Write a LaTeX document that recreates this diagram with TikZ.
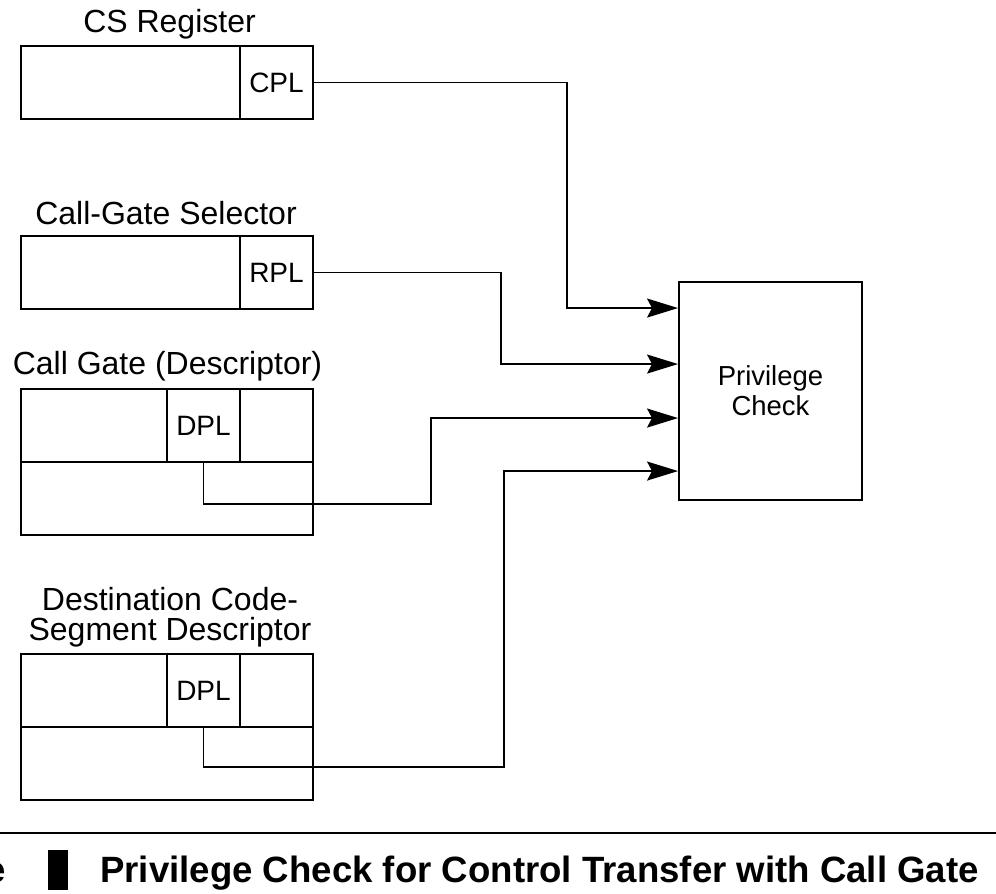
\documentclass[tikz,border=0pt]{standalone}
\usepackage{fontspec}
\setmainfont{Liberation Sans}
\usetikzlibrary{arrows.meta}
\begin{document}
\begin{tikzpicture}[x=1pt,y=-1pt]
\tikzset{cellule/.style={draw, line width=1.9pt, inner sep=0pt, minimum height=73pt, font=\fontsize{28}{32}\selectfont},
titre/.style={inner sep=0pt, font=\fontsize{32}{30}\selectfont},
fleche/.style={line width=1.9pt, -{Stealth[length=31pt,width=19pt,inset=5pt]}},
legende/.style={inner sep=0pt, font=\bfseries\fontsize{36.6}{40}\selectfont}}
\useasboundingbox (0,0) rectangle (996,894);
% CS register
\node[titre, anchor=base] (T1) at (169.5,32) {CS Register};
\node[cellule, minimum width=219pt] (CS) at (130.5,82.5) {};
\node[cellule, minimum width=73pt] (CPL) at (276.5,82.5) {CPL};
% call-gate selector
\node[titre, anchor=base] (T2) at (166,224) {Call-Gate Selector};
\node[cellule, minimum width=219pt] (SEL) at (130.5,272.5) {};
\node[cellule, minimum width=73pt] (RPL) at (276.5,272.5) {RPL};
% call gate
\node[titre, anchor=base] (T3) at (167.5,374) {Call Gate (Descriptor)};
\node[cellule, minimum width=146pt] (G1) at (94,425.5) {};
\node[cellule, minimum width=73pt] (DPL1) at (203.5,425.5) {DPL};
\node[cellule, minimum width=73pt] (G2) at (276.5,425.5) {};
\node[cellule, minimum width=292pt] (G3) at (167,498.5) {};
% destination code segment
\node[titre, anchor=north, align=center] (T4) at (170,587) {Destination Code-\\Segment Descriptor};
\node[cellule, minimum width=146pt] (D1) at (94,690.5) {};
\node[cellule, minimum width=73pt] (DPL2) at (203.5,690.5) {DPL};
\node[cellule, minimum width=73pt] (D2) at (276.5,690.5) {};
\node[cellule, minimum width=292pt] (D3) at (167,763.5) {};
% privilege check
\node[draw, line width=1.9pt, minimum width=183pt, minimum height=218pt, align=center, font=\fontsize{27.5}{30}\selectfont] (CHK) at (770.5,391) {Privilege\\Check};
\coordinate (E1) at ([yshift=-27pt]CHK.north west);
\coordinate (E2) at ([yshift=-83pt]CHK.north west);
\coordinate (E3) at ([yshift=-137pt]CHK.north west);
\coordinate (E4) at ([yshift=-190pt]CHK.north west);
\draw[fleche] (CPL.east) -| ([xshift=-111pt]E1) -- (E1);
\draw[fleche] (RPL.east) -| ([xshift=-177pt]E2) -- (E2);
\draw[fleche] (DPL1.south) -- ++(0,41) -| ([xshift=-247pt]E3) -- (E3);
\draw[fleche] (DPL2.south) -- ++(0,39) -| ([xshift=-174pt]E4) -- (E4);
% caption
\draw[line width=1.5pt] (0,833) -- (996,833);
\fill (48,850) rectangle (68,890);
\node[legende, anchor=base east] (FIG) at (6,882) {e};
\node[legende, anchor=base west] (CAP) at (100,882) {Privilege Check for Control Transfer with Call Gate};
\end{tikzpicture}
\end{document}
